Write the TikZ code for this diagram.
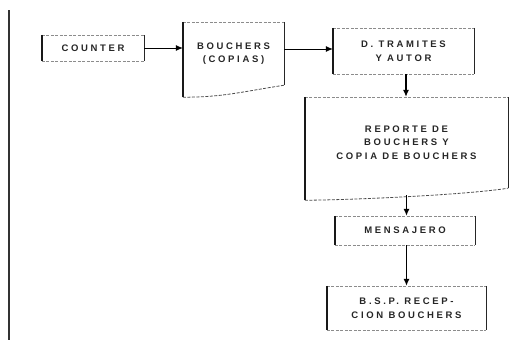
\documentclass[tikz,border=0pt]{standalone}
\usepackage{fontspec}
\usetikzlibrary{arrows.meta}
\newfontfamily\boxfont[LetterSpace=28]{Liberation Sans}

\tikzset{
  box/.style={rectangle, inner sep=0pt, align=center, text=black!85,
    font=\boxfont\bfseries\fontsize{9.5}{13.5}\selectfont},
  flow/.style={-{Latex[length=7pt,width=6pt]}, line width=1.1pt},
  sideedge/.style={line width=1.6pt, black!90},
  rightedge/.style={line width=1pt, black!85},
  faintedge/.style={line width=0.5pt, black!45, dash pattern=on 3pt off 1.5pt},
}

\begin{document}
\begin{tikzpicture}[x=1pt,y=-1pt]
  \useasboundingbox (0,0) rectangle (532,348);

  % margin rule on the left
  \draw[line width=1.1pt, black!80] (9,10) -- (9,340);

  \node (counter) [box, minimum width=102pt, minimum height=26pt] at (93, 48) {COUNTER};
  \node (bouchers) [box, minimum width=101pt, minimum height=63pt] at (233.5, 53.5) {BOUCHERS\\(COPIAS)};
  \node (tramites) [box, minimum width=141pt, minimum height=46pt] at (403.5, 51) {D. TRAMITES\\Y AUTOR};
  \node (reporte) [box, minimum width=203pt, minimum height=91pt] at (406.5, 142.5) {REPORTE DE\\BOUCHERS Y\\COPIA DE BOUCHERS};
  \node (mensajero) [box, minimum width=140pt, minimum height=29pt] at (405, 230.5) {MENSAJERO};
  \node (bsp) [box, minimum width=159pt, minimum height=44pt] at (406.5, 308) {B.S.P. RECEP-\\CION BOUCHERS};

  % plain boxes: heavy left side, lighter right side
  \foreach \n in {counter, tramites, mensajero, bsp} {
    \draw[faintedge] (\n.north west) -- (\n.north east) (\n.south west) -- (\n.south east);
    \draw[sideedge] (\n.north west) -- (\n.south west);
    \draw[rightedge] (\n.north east) -- (\n.south east);
  }

  % document shapes with a wavy foot
  \foreach \n in {bouchers, reporte} {
    \coordinate (\n-foot) at ([yshift=-12pt]\n.south west);
    \draw[faintedge] (\n.north west) -- (\n.north east);
    \draw[faintedge, line width=0.8pt, black!70] (\n-foot) .. controls +(40pt,0pt) and +(-45pt,-7pt) .. (\n.south east);
    \draw[sideedge] (\n.north west) -- (\n-foot);
    \draw[rightedge] (\n.north east) -- (\n.south east);
  }

  \coordinate (reporte-tail) at ([yshift=-7pt]reporte.south);

  \draw[flow, line width=0.8pt] (counter.east) -- (counter.east -| bouchers.west);
  \draw[flow, line width=0.8pt] (bouchers.east |- 0,49) -- (tramites.west |- 0,49);
  \draw[flow] (tramites.south -| 406,0) -- (reporte.north -| 406,0);
  \draw[flow] (reporte-tail) -- (mensajero.north -| reporte-tail);
  \draw[flow] (mensajero.south -| reporte-tail) -- (bsp.north -| reporte-tail);
\end{tikzpicture}
\end{document}
